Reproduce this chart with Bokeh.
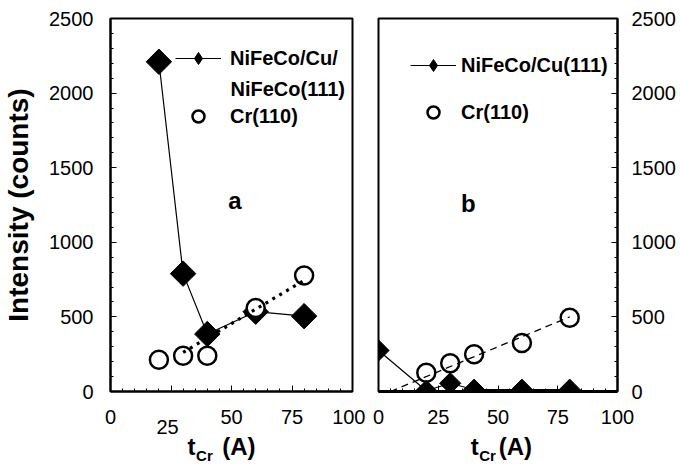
from bokeh.plotting import figure
from bokeh.layouts import row
from bokeh.models import (Range1d, FixedTicker, Label, Legend, LegendItem, LinearAxis,
                          CDSView, IndexFilter, ColumnDataSource, AllLabels)
from bokeh.embed import file_html
from bokeh.resources import INLINE
import math

# ---- data (panel a) ----
t_a = [20, 30, 40, 60, 80]
nifeco_a = [2210, 790, 385, 535, 505]
t_cr_a = [20, 30, 40, 60, 80]
cr_a = [213, 240, 240, 560, 778]
fit_a_t = [30, 80]
fit_a_y = [262, 745]

# ---- data (panel b) ----
t_b = [0, 20, 30, 40, 60, 80]
nifeco_b = [275, 5, 55, 12, 12, 12]
t_cr_b = [20, 30, 40, 60, 80]
cr_b = [125, 190, 250, 325, 495]
fit_b_t = [5, 80]
fit_b_y = [0, 500]

x_ticks = [0, 25, 50, 75, 100]
x_minor = list(range(0, 101, 5))
y_ticks = [0, 500, 1000, 1500, 2000, 2500]
y_minor = list(range(0, 2501, 100))

FONT = "Liberation Sans"
TICK_FONT = "Arial"
NB = "\u00a0"


def label_axis(text, size, standoff, style="bold", font=FONT):
    return LinearAxis(ticker=FixedTicker(ticks=[], minor_ticks=[]), axis_line_color=None,
                      major_tick_in=0, major_tick_out=0, minor_tick_in=0, minor_tick_out=0,
                      major_label_standoff=0, major_label_text_font_size="0px",
                      axis_label=text, axis_label_text_font=font,
                      axis_label_text_font_style=style, axis_label_text_font_size=size,
                      axis_label_text_color="black", axis_label_standoff=standoff)


def make_fig(width, bl, br, yloc, main_label, sub_label):
    p = figure(width=width, height=466, x_range=Range1d(0, 100), y_range=Range1d(0, 2500),
               output_backend="svg", toolbar_location=None, y_axis_location=yloc,
               min_border_left=bl, min_border_right=br, min_border_top=18, min_border_bottom=73)
    p.grid.visible = False
    p.outline_line_color = "black"
    p.outline_line_width = 2
    p.xaxis.ticker = FixedTicker(ticks=x_ticks, minor_ticks=x_minor)
    p.yaxis.ticker = FixedTicker(ticks=y_ticks, minor_ticks=y_minor)
    for ax in (p.xaxis, p.yaxis):
        ax.axis_line_width = 2
        ax.major_tick_in = 6
        ax.major_tick_out = 0
        ax.minor_tick_in = 3
        ax.minor_tick_out = 0
        ax.major_label_text_font = TICK_FONT
        ax.major_label_text_font_size = "20px"
        ax.major_label_text_color = "black"
        ax.major_label_policy = AllLabels()
    p.xaxis.major_label_standoff = 18
    p.yaxis.major_label_standoff = 17 if yloc == "left" else 14
    # x-axis title: "t (A)" on the main axis, subscript "Cr" on a label-only axis below
    p.xaxis.axis_label = main_label
    p.xaxis.axis_label_text_font = FONT
    p.xaxis.axis_label_text_font_style = "bold"
    p.xaxis.axis_label_text_font_size = "24px"
    p.xaxis.axis_label_text_color = "black"
    p.xaxis.axis_label_standoff = 6
    p.add_layout(label_axis(sub_label, "15px", -16), "below")
    return p


def legend(items, loc, spacing, standoff):
    return Legend(items=items, location=loc, glyph_width=46, glyph_height=30, label_height=30,
                  spacing=spacing, padding=0, margin=0, label_standoff=standoff,
                  border_line_color=None, background_fill_alpha=0,
                  label_text_font=FONT, label_text_font_size="20px",
                  label_text_font_style="bold", label_text_color="black")


# ---------- panel a ----------
p1 = make_fig(365, 107, 13, "left", "t" + NB * 4 + "(A)" + NB * 3, "Cr" + NB * 13)
p1.yaxis.axis_label = "Intensity (counts)"
p1.yaxis.axis_label_text_font = FONT
p1.yaxis.axis_label_text_font_style = "bold"
p1.yaxis.axis_label_text_font_size = "28px"
p1.yaxis.axis_label_text_color = "black"
p1.yaxis.axis_label_standoff = 12
# the "25" tick label of panel a is drawn by a label-only axis
p1.xaxis[0].major_label_overrides = {25: ""}
p1.add_layout(label_axis("25" + NB * 23, "20px", -51, style="normal", font=TICK_FONT), "below")

src_a = ColumnDataSource(dict(t=t_a, v=nifeco_a))
l1 = p1.line("t", "v", source=src_a, line_color="black", line_width=1.2)
s1 = p1.scatter("t", "v", source=src_a, marker="square", angle=math.pi / 4, size=18,
                fill_color="black", line_color="black")
c1 = p1.scatter(t_cr_a, cr_a, marker="circle", size=18, fill_color="white",
                line_color="black", line_width=2.5)
p1.line(fit_a_t, fit_a_y, line_color="black", line_width=3.2, line_dash="3 5")
# legend diamond: a small diamond hidden under the first (larger) data marker
k1 = p1.scatter("t", "v", source=src_a, view=CDSView(filter=IndexFilter(indices=[0])),
                marker="diamond", size=10, fill_color="black", line_color="black")

p1.add_layout(legend([LegendItem(label="NiFeCo/Cu/", renderers=[l1, k1]),
                      LegendItem(label="Cr(110)", renderers=[c1])], (65, 260), 28, 9))
p1.add_layout(Label(x=0, y=2500, x_offset=120, y_offset=-70, text="NiFeCo(111)",
                    text_align="left", text_baseline="middle", text_font=FONT,
                    text_font_style="bold", text_font_size="20px", text_color="black"))
p1.add_layout(Label(x=51.4, y=1283, text="a", text_align="center", text_baseline="middle",
                    text_font=FONT, text_font_style="bold", text_font_size="24px",
                    text_color="black"))

# ---------- panel b ----------
p2 = make_fig(313, 13, 55, "right", NB + "t" + NB * 3 + "(A)", "Cr" + NB * 5)
src_b = ColumnDataSource(dict(t=t_b, v=nifeco_b))
l2 = p2.line("t", "v", source=src_b, line_color="black", line_width=1.2)
c2 = p2.scatter(t_cr_b, cr_b, marker="circle", size=18, fill_color="white",
                line_color="black", line_width=2.5)
s2 = p2.scatter("t", "v", source=src_b, marker="square", angle=math.pi / 4, size=15,
                fill_color="black", line_color="black")
p2.line(fit_b_t, fit_b_y, line_color="black", line_width=1.3, line_dash="7 5")
p2.xaxis.axis_line_width = 3
k2 = p2.scatter("t", "v", source=src_b, view=CDSView(filter=IndexFilter(indices=[0])),
                marker="diamond", size=9, fill_color="black", line_color="black")

p2.add_layout(legend([LegendItem(label="NiFeCo/Cu(111)", renderers=[l2, k2]),
                      LegendItem(label="Cr(110)", renderers=[c2])], (32, 264), 17, 5))
p2.add_layout(Label(x=37.6, y=1257, text="b", text_align="center", text_baseline="middle",
                    text_font=FONT, text_font_style="bold", text_font_size="24px",
                    text_color="black"))

layout = row(p1, p2)
open("out.html", "w").write(file_html(layout, INLINE))
